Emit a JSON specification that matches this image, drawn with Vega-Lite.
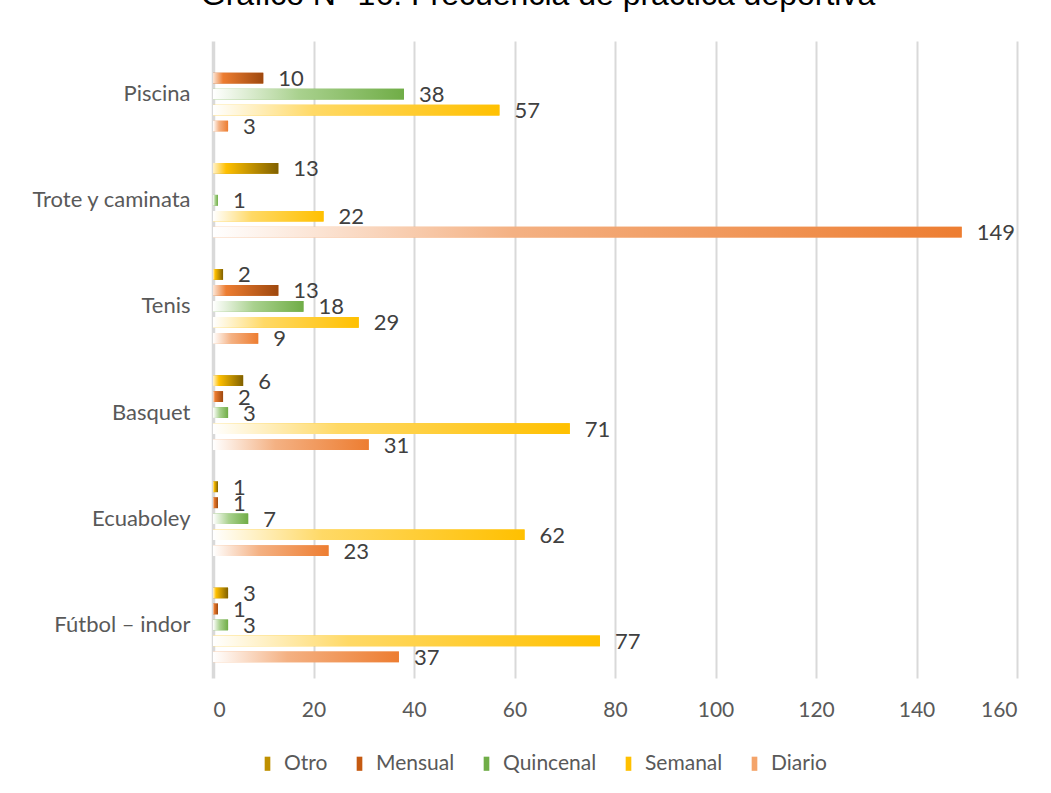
{
  "$schema": "https://vega.github.io/schema/vega-lite/v6.json",
  "autosize": {"type": "none"},
  "width": 804,
  "height": 637,
  "padding": {"left": 213, "top": 41, "right": 34, "bottom": 115},
  "background": "white",
  "title": {
    "text": "Gráfico N° 16: Frecuencia de práctica deportiva",
    "font": "Liberation Sans",
    "fontSize": 32,
    "fontWeight": "normal",
    "color": "#000000",
    "anchor": "middle",
    "dx": -77,
    "baseline": "alphabetic",
    "offset": 4
  },
  "config": {
    "view": {"stroke": null},
    "font": "Lato"
  },
  "data": {
    "values": [
      {"deporte": "Piscina", "frecuencia": "Mensual", "valor": 10},
      {"deporte": "Piscina", "frecuencia": "Quincenal", "valor": 38},
      {"deporte": "Piscina", "frecuencia": "Semanal", "valor": 57},
      {"deporte": "Piscina", "frecuencia": "Diario", "valor": 3},
      {"deporte": "Trote y caminata", "frecuencia": "Otro", "valor": 13},
      {"deporte": "Trote y caminata", "frecuencia": "Quincenal", "valor": 1},
      {"deporte": "Trote y caminata", "frecuencia": "Semanal", "valor": 22},
      {"deporte": "Trote y caminata", "frecuencia": "Diario", "valor": 149},
      {"deporte": "Tenis", "frecuencia": "Otro", "valor": 2},
      {"deporte": "Tenis", "frecuencia": "Mensual", "valor": 13},
      {"deporte": "Tenis", "frecuencia": "Quincenal", "valor": 18},
      {"deporte": "Tenis", "frecuencia": "Semanal", "valor": 29},
      {"deporte": "Tenis", "frecuencia": "Diario", "valor": 9},
      {"deporte": "Basquet", "frecuencia": "Otro", "valor": 6},
      {"deporte": "Basquet", "frecuencia": "Mensual", "valor": 2},
      {"deporte": "Basquet", "frecuencia": "Quincenal", "valor": 3},
      {"deporte": "Basquet", "frecuencia": "Semanal", "valor": 71},
      {"deporte": "Basquet", "frecuencia": "Diario", "valor": 31},
      {"deporte": "Ecuaboley", "frecuencia": "Otro", "valor": 1},
      {"deporte": "Ecuaboley", "frecuencia": "Mensual", "valor": 1},
      {"deporte": "Ecuaboley", "frecuencia": "Quincenal", "valor": 7},
      {"deporte": "Ecuaboley", "frecuencia": "Semanal", "valor": 62},
      {"deporte": "Ecuaboley", "frecuencia": "Diario", "valor": 23},
      {"deporte": "Fútbol – indor", "frecuencia": "Otro", "valor": 3},
      {"deporte": "Fútbol – indor", "frecuencia": "Mensual", "valor": 1},
      {"deporte": "Fútbol – indor", "frecuencia": "Quincenal", "valor": 3},
      {"deporte": "Fútbol – indor", "frecuencia": "Semanal", "valor": 77},
      {"deporte": "Fútbol – indor", "frecuencia": "Diario", "valor": 37}
    ]
  },
  "encoding": {
    "y": {
      "field": "deporte",
      "type": "nominal",
      "sort": ["Piscina", "Trote y caminata", "Tenis", "Basquet", "Ecuaboley", "Fútbol – indor"],
      "scale": {"paddingInner": 0.247, "paddingOuter": 0.1235},
      "axis": {
        "title": null,
        "domain": false,
        "ticks": false,
        "labelFont": "Lato",
        "labelFontSize": 22,
        "labelColor": "#595959",
        "labelPadding": 23
      }
    },
    "yOffset": {
      "field": "frecuencia",
      "type": "nominal",
      "scale": {"domain": ["Otro", "Mensual", "Quincenal", "Semanal", "Diario"], "paddingInner": 0.33, "paddingOuter": 0.165}
    },
    "x": {
      "field": "valor",
      "type": "quantitative",
      "scale": {"domain": [0, 160], "nice": false},
      "axis": {
        "title": null,
        "values": [0, 20, 40, 60, 80, 100, 120, 140, 160],
        "domain": false,
        "ticks": false,
        "grid": true,
        "gridColor": "#D9D9D9",
        "gridWidth": {"condition": {"test": "datum.value === 0", "value": 3.5}, "value": 2},
        "labelFont": "Lato",
        "labelFontSize": 21,
        "labelColor": "#595959",
        "labelPadding": 21
      }
    }
  },
  "layer": [
    {
      "mark": {"type": "bar"},
      "encoding": {
        "color": {
          "field": "frecuencia",
          "type": "nominal",
          "scale": {
            "domain": ["Otro", "Mensual", "Quincenal", "Semanal", "Diario"],
            "range": ["#BF9000", "#C55A11", "#70AD47", "#FFC000", "#F4A46A"]
          },
          "legend": {
            "title": null,
            "orient": "none",
            "direction": "horizontal",
            "legendX": 44,
            "legendY": 712,
            "symbolType": "M-0.4,-1H0.4V1H-0.4Z",
            "symbolSize": 200,
            "symbolStrokeWidth": 0,
            "labelFont": "Lato",
            "labelFontSize": 21,
            "labelColor": "#595959",
            "labelOffset": 6,
            "columnPadding": 21
          }
        }
      }
    },
    {
      "mark": {"type": "bar"},
      "encoding": {
        "color": {
          "condition": [
            {"test": "datum.frecuencia === 'Otro'", "value": {"gradient": "linear", "x1": 0, "x2": 1, "y1": 0, "y2": 0, "stops": [{"offset": 0, "color": "#FFF2CC"}, {"offset": 0.2, "color": "#FFC000"}, {"offset": 1, "color": "#806000"}]}},
            {"test": "datum.frecuencia === 'Mensual'", "value": {"gradient": "linear", "x1": 0, "x2": 1, "y1": 0, "y2": 0, "stops": [{"offset": 0, "color": "#FBE5D6"}, {"offset": 0.2, "color": "#ED7D31"}, {"offset": 1, "color": "#9E480E"}]}},
            {"test": "datum.frecuencia === 'Quincenal'", "value": {"gradient": "linear", "x1": 0, "x2": 1, "y1": 0, "y2": 0, "stops": [{"offset": 0, "color": "#FFFFFF"}, {"offset": 0.45, "color": "#A9D18E"}, {"offset": 1, "color": "#70AD47"}]}},
            {"test": "datum.frecuencia === 'Semanal'", "value": {"gradient": "linear", "x1": 0, "x2": 1, "y1": 0, "y2": 0, "stops": [{"offset": 0, "color": "#FFFFFF"}, {"offset": 0.35, "color": "#FFD966"}, {"offset": 1, "color": "#FFC000"}]}}
          ],
          "value": {"gradient": "linear", "x1": 0, "x2": 1, "y1": 0, "y2": 0, "stops": [{"offset": 0, "color": "#FFFFFF"}, {"offset": 0.4, "color": "#F4B183"}, {"offset": 1, "color": "#ED7D31"}]}
        }
      }
    },
    {
      "mark": {"type": "text", "align": "left", "baseline": "middle", "dx": 15, "dy": 1, "font": "Lato", "fontSize": 22, "color": "#404040"},
      "encoding": {
        "text": {"field": "valor", "type": "quantitative"}
      }
    }
  ]
}
